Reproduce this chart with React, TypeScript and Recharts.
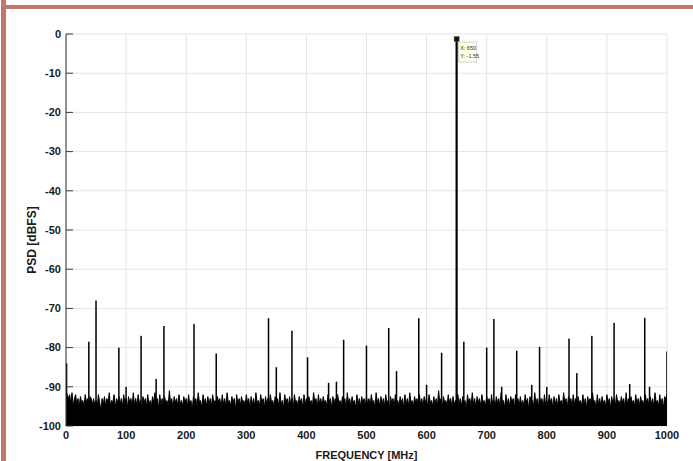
import React from "react";
import {
  ComposedChart,
  Area,
  Bar,
  Scatter,
  XAxis,
  YAxis,
  CartesianGrid,
} from "recharts";

// ---- data ----
const xTicks = [0, 100, 200, 300, 400, 500, 600, 700, 800, 900, 1000];
const yTicks = [-100, -90, -80, -70, -60, -50, -40, -30, -20, -10, 0];

const NOISE_START = 0;
const NOISE_STEP = 2;
const noiseFloor = [
  -91, -92, -93, -92, -94, -91.5, -95, -93, -92, -94.5, -93, -95, -92.5, -94, -93.5, -95, -92, -94, -93, -95.5, -92.5, -93, -94.5, -93, -95,
  -93.5, -95, -92, -94, -96, -93, -94.5, -92.5, -95, -93, -94, -91.5, -95, -93.5, -94, -92, -95.5, -93, -94, -92.5, -94.5, -93, -95, -92, -94,
  -93, -95.5, -92.5, -94, -93, -95, -91.5, -94.5, -93, -95, -92, -94, -93.5, -96, -92.5, -94, -93, -95, -92, -94.5, -93.5, -95, -92.5, -94, -91.5,
  -94, -93, -95.5, -92, -94.5, -93, -95, -92.5, -94, -93.5, -95, -91, -94, -93, -95.5, -92.5, -94, -93, -95, -92, -94.5, -93.5, -95, -92.5, -94,
  -93, -95, -92, -94.5, -93.5, -96, -92.5, -94, -93, -95, -91.5, -94, -93.5, -95.5, -92, -94, -93, -95, -92.5, -94.5, -93, -95, -92, -94, -93.5,
  -95, -92.5, -94, -93, -95.5, -92, -94.5, -93, -95, -91.5, -94, -93.5, -95, -92.5, -94, -93, -96, -92, -94.5, -93, -95, -92.5, -94, -93.5, -95,
  -92, -94, -93, -95.5, -92.5, -94.5, -93, -95, -91.5, -94, -93.5, -95, -92, -94, -93, -95.5, -92.5, -94.5, -93, -95, -92, -94, -93.5, -95, -92.5,
  -94, -93, -95, -91.5, -94.5, -93.5, -95.5, -92, -94, -93, -95, -92.5, -94.5, -93, -96, -92, -94, -93.5, -95, -92.5, -94, -93, -95.5, -92, -94.5,
  -93, -95, -92.5, -94, -93.5, -95, -91.5, -94, -93, -95.5, -92, -94.5, -93, -95, -92.5, -94, -93.5, -95, -92, -94, -93, -95.5, -92.5, -94.5, -93,
  -95, -92, -94, -93.5, -95, -92.5, -94.5, -93, -96, -91.5, -94, -93, -95, -92.5, -94, -93.5, -95.5, -92, -94.5, -93, -95, -92.5, -94, -93, -95,
  -92.5, -94.5, -93, -95, -92, -94, -93.5, -95.5, -91.5, -94, -93, -95, -92.5, -94.5, -93, -95, -92, -94, -93.5, -96, -92.5, -94, -93, -95, -92,
  -94, -93.5, -95, -92.5, -94, -93, -95.5, -92, -94.5, -93, -95, -91.5, -94, -93.5, -95, -92.5, -94, -93, -95.5, -92, -94.5, -93, -95, -92.5, -94,
  -93, -95.5, -92, -94, -93.5, -95, -92.5, -94.5, -93, -95, -91, -94, -93, -95.5, -92.5, -94, -93.5, -95, -92, -94, -93, -95, -92.5, -94.5, -93.5,
  -95, -92, -94.5, -93, -95, -92.5, -94, -93.5, -96, -92, -94, -93, -95, -91.5, -94.5, -93, -95.5, -92.5, -94, -93, -95, -92, -94, -93.5, -95,
  -92.5, -94, -93, -95.5, -92, -94.5, -93.5, -95, -92.5, -94, -93, -95, -91.5, -94, -93.5, -95.5, -92, -94.5, -93, -95, -92.5, -94, -93, -95.5, -92,
  -94, -93, -95, -92.5, -94.5, -93.5, -95, -92, -94, -93, -96, -92.5, -94, -93.5, -95, -91.5, -94.5, -93, -95, -92.5, -94, -93, -95.5, -92, -94.5,
  -93.5, -95, -92, -94, -93, -95.5, -92.5, -94.5, -93, -95, -92, -94, -93.5, -95, -91.5, -94, -93, -95.5, -92.5, -94, -93, -95, -92, -94.5, -93,
  -95, -92.5, -94, -93.5, -95, -92, -94.5, -93, -95.5, -92.5, -94, -93, -95, -91.5, -94, -93.5, -96, -92, -94.5, -93, -95, -92.5, -94, -93.5, -95,
  -92, -94, -93, -95.5, -92.5, -94.5, -93, -95, -92, -94, -93.5, -95, -92.5, -94, -93, -95.5, -91.5, -94.5, -93, -95, -92.5, -94, -93.5, -95, -92,
  -94.5, -93, -95, -92.5, -94, -93.5, -95.5, -92, -94, -93, -95, -92.5, -94.5, -93, -95, -91.5, -94, -93.5, -95, -92, -94.5, -93, -95.5, -92.5, -93,
  -92,
];

const spurFreqs = [
  1, 38, 50, 88, 100, 125, 150, 163, 213, 250, 337, 350, 376, 402, 437, 450, 462, 500, 537, 550,
  587, 600, 625, 650, 662, 700, 712, 725, 750, 775, 788, 800, 837, 850, 875, 912, 938, 963, 971, 1000,
];
const spurLevels = [
  -84, -78.5, -68, -80, -90, -77, -88, -74.5, -74, -81.5, -72.5, -85, -75.7, -82.5, -89, -88.7, -78, -79.5, -75, -86,
  -72.5, -89.5, -81.3, -1.55, -78.5, -80, -72.7, -90, -80.8, -89.5, -79.8, -90, -77.7, -86.5, -77, -73.7, -89.3, -72.4, -90, -81,
];

const markerFreq = 650;
const markerLevel = -1.55;

const FLOOR = -100;

// build combined table
type Row = { f: number; noise?: number; spur?: [number, number] };
const rows: Row[] = [];
noiseFloor.forEach((v, i) => rows.push({ f: NOISE_START + i * NOISE_STEP, noise: v }));
spurFreqs.forEach((f, i) => rows.push({ f, spur: [FLOOR, spurLevels[i]] }));
rows.sort((a, b) => a.f - b.f);

const markerData = [{ f: markerFreq, y: markerLevel }];

const FONT = "'Liberation Sans', Arial, Helvetica, sans-serif";

const YTick = (props: any) => {
  const { x, y, payload } = props;
  return (
    <g>
      <line x1={x + 5} x2={x + 12} y1={y} y2={y} stroke="#3a3a3a" strokeWidth={1} />
      <text
        x={x}
        y={y}
        dy="0.35em"
        textAnchor="end"
        fontFamily={FONT}
        fontWeight="bold"
        fontSize={11}
        fill="#1a1a1a"
      >
        {payload.value}
      </text>
    </g>
  );
};

const XTick = (props: any) => {
  const { x, y, payload } = props;
  return (
    <text
      x={x}
      y={y}
      dy="0.71em"
      textAnchor="middle"
      fontFamily={FONT}
      fontWeight="bold"
      fontSize={11}
      fill="#1a1a1a"
    >
      {payload.value}
    </text>
  );
};

const SpurShape = (props: any) => {
  const { x, y, width, height, payload } = props;
  const lvl = payload && payload.spur ? payload.spur[1] : -100;
  const w = lvl > -10 ? 2.2 : 1.5;
  const cx = x + width / 2;
  return <rect x={cx - w / 2} y={y} width={w} height={height} fill="#000" />;
};

const MarkerShape = (props: any) => {
  const { cx, cy, payload } = props;
  return (
    <g>
      <rect x={cx - 2.5} y={cy - 3.5} width={5} height={5} fill="#111" stroke="#555" strokeWidth={0.5} />
      <rect x={cx + 2} y={cy + 2} width={18} height={20} fill="#ffffe8" stroke="#c8c8c8" strokeWidth={0.8} />
      <text x={cx + 3.5} y={cy + 9.5} fontFamily={FONT} fontSize={5.5} fill="#333">
        {`X: ${payload.f}`}
      </text>
      <text x={cx + 3.5} y={cy + 17.5} fontFamily={FONT} fontSize={5.5} fill="#333">
        {`Y: ${payload.y}`}
      </text>
    </g>
  );
};

export default function App() {
  return (
    <div style={{ position: "absolute", left: 0, top: 0, width: 693, height: 461, background: "#fff", overflow: "hidden" }}>
      <ComposedChart
        width={693}
        height={461}
        data={rows}
        margin={{ top: 34, right: 26, left: 0, bottom: 1 }}
      >
        <CartesianGrid stroke="#e4e4e4" strokeWidth={1} horizontalValues={yTicks} verticalValues={xTicks} />
        <XAxis
          dataKey="f"
          type="number"
          domain={[0, 1000]}
          ticks={xTicks}
          allowDataOverflow
          height={34}
          axisLine={false}
          tickLine={false}
          tickSize={0}
          tickMargin={5}
          tick={<XTick />}
          interval={0}
          label={{
            value: "FREQUENCY [MHz]",
            position: "insideBottom",
            offset: 1,
            fontFamily: FONT,
            fontWeight: "bold",
            fontSize: 11,
            fill: "#1a1a1a",
          }}
        />
        <YAxis
          type="number"
          domain={[-100, 0]}
          ticks={yTicks}
          allowDataOverflow
          width={66}
          axisLine={{ stroke: "#333", strokeWidth: 1 }}
          tickLine={false}
          tickSize={0}
          tickMargin={5}
          tick={<YTick />}
          interval={0}
          label={{
            value: "PSD [dBFS]",
            angle: -90,
            position: "insideLeft",
            offset: 0,
            content: (p: any) => {
              const vb = p.viewBox;
              const cx = 32;
              const cy = vb.y + vb.height / 2 + 10;
              return (
                <text
                  x={cx}
                  y={cy}
                  transform={`rotate(-90 ${cx} ${cy})`}
                  textAnchor="middle"
                  dominantBaseline="central"
                  fontFamily={FONT}
                  fontWeight="bold"
                  fontSize={12}
                  fill="#1a1a1a"
                >
                  PSD [dBFS]
                </text>
              );
            },
          }}
        />
        <Area
          dataKey="noise"
          type="linear"
          baseValue="dataMin"
          stroke="#000"
          strokeWidth={1}
          fill="#000"
          fillOpacity={1}
          connectNulls
          dot={false}
          activeDot={false}
          isAnimationActive={false}
        />
        <Bar dataKey="spur" barSize={2} fill="#000" shape={<SpurShape />} isAnimationActive={false} />
        <Scatter data={markerData} dataKey="y" shape={<MarkerShape />} isAnimationActive={false} />
      </ComposedChart>
      <div style={{ position: "absolute", left: 1, top: 0, width: 5, height: 461, background: "#c1786b" }} />
      <div style={{ position: "absolute", left: 6, top: 5, width: 687, height: 4, background: "#c1786b" }} />
    </div>
  );
}
